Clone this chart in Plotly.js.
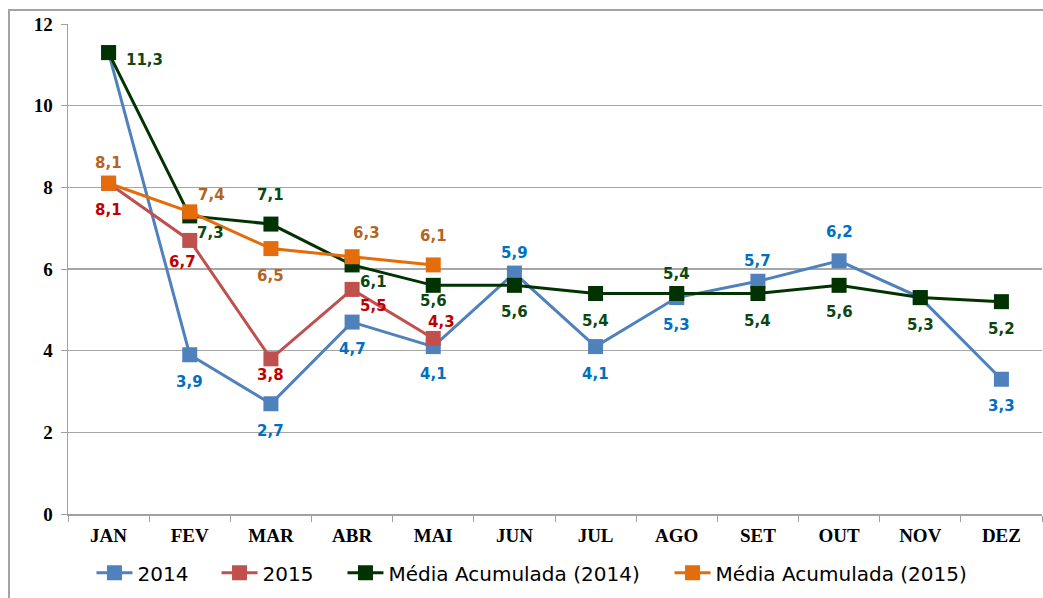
<!DOCTYPE html>
<html>
<head>
<meta charset="utf-8">
<script src="https://cdn.plot.ly/plotly-3.0.1.min.js"></script>
<style>
  html, body { margin: 0; padding: 0; background: #fff; overflow: hidden; }
  #wrap { position: relative; width: 1043px; height: 598px; }
  #chart { width: 1043px; height: 598px; }
  #frame { position: absolute; left: 8px; top: 9px; width: 1200px; height: 800px;
           border: 2px solid #a3a3a3; box-sizing: border-box; pointer-events: none; }
</style>
</head>
<body>
<div id="wrap">
  <div id="chart"></div>
  <div id="frame"></div>
</div>
<script>
// ---- data ----
const months = ["JAN", "FEV", "MAR", "ABR", "MAI", "JUN", "JUL", "AGO", "SET", "OUT", "NOV", "DEZ"];
const months2015 = ["JAN", "FEV", "MAR", "ABR", "MAI"];

const values2014 = [11.3, 3.9, 2.7, 4.7, 4.1, 5.9, 4.1, 5.3, 5.7, 6.2, 5.3, 3.3];
const values2015 = [8.1, 6.7, 3.8, 5.5, 4.3];
const media2014  = [11.3, 7.3, 7.1, 6.1, 5.6, 5.6, 5.4, 5.4, 5.4, 5.6, 5.3, 5.2];
const media2015  = [8.1, 7.4, 6.5, 6.3, 6.1];

// label placement codes per point ("n" = label not shown, it overlaps another series)
const place2014  = ["n", "b", "b", "b", "b", "t", "b", "b", "t", "tt", "n", "b"];
const place2015  = ["b", "bl", "bs", "br", "ts"];
const placeM2014 = ["r", "br", "tt", "br", "bs", "b", "b", "t", "b", "b", "b", "b"];
const placeM2015 = ["t", "tr", "b", "tm", "tt"];

// pixel offsets (dx right, dy down) of the label centre from the marker centre
const OFFSETS = {
  b:  [0, 27],  bs: [0, 16],  bl: [-7, 22], br: [21, 17],
  t:  [0, -20], tt: [0, -29], ts: [8, -16], tr: [22, -17], tm: [14, -24],
  r:  [36, 7]
};

// horizontal legend slot (paper x) for each series
const legendX = [0.0241, 0.1525, 0.2818, 0.6176];

const fmt = v => v.toFixed(1).replace(".", ",");

function series(name, x, y, color, legendId) {
  return {
    type: "scatter",
    mode: "lines+markers",
    name: name,
    x: x,
    y: y,
    legend: legendId,
    line: { color: color, width: 3 },
    marker: { symbol: "square", size: 15, color: color },
    cliponaxis: false,
    hoverinfo: "skip"
  };
}

function labels(x, y, places, textColor) {
  const out = [];
  y.forEach((v, i) => {
    const p = places[i];
    if (p === "n") return;
    const off = OFFSETS[p];
    out.push({
      xref: "x", yref: "y", x: x[i], y: v,
      text: fmt(v), showarrow: false,
      xanchor: "center", yanchor: "middle",
      xshift: off[0], yshift: -off[1],
      font: { family: "DejaVu Sans", size: 15, color: textColor, weight: "bold" }
    });
  });
  return out;
}

const traces = [
  series("2014", months, values2014, "#4f81bd", "legend"),
  series("2015", months2015, values2015, "#c0504d", "legend2"),
  series("Média Acumulada (2014)", months, media2014, "#003300", "legend3"),
  series("Média Acumulada (2015)", months2015, media2015, "#e46c0a", "legend4")
];

const annotations = [].concat(
  labels(months, values2014, place2014, "#0070c0"),
  labels(months2015, values2015, place2015, "#c00000"),
  labels(months, media2014, placeM2014, "#0c4712"),
  labels(months2015, media2015, placeM2015, "#b4641f")
);

function legendBox(x) {
  return {
    orientation: "h",
    x: x, xanchor: "left",
    y: -0.12, yanchor: "middle",
    font: { family: "DejaVu Sans", size: 20, color: "#000" },
    itemwidth: 36,
    bgcolor: "rgba(0,0,0,0)"
  };
}

const layout = {
  width: 1043,
  height: 598,
  margin: { l: 68, r: 1, t: 24, b: 84 },
  paper_bgcolor: "#ffffff",
  plot_bgcolor: "#ffffff",
  showlegend: true,
  legend: legendBox(legendX[0]),
  legend2: legendBox(legendX[1]),
  legend3: legendBox(legendX[2]),
  legend4: legendBox(legendX[3]),
  annotations: annotations,
  xaxis: {
    type: "category",
    categoryorder: "array",
    categoryarray: months,
    range: [-0.5, 11.5],
    showline: true, linecolor: "#a0a0a0", linewidth: 1.5,
    ticks: "outside", tickson: "boundaries", ticklen: 6, tickcolor: "#a0a0a0", tickwidth: 1,
    ticklabelstandoff: 4,
    showgrid: false,
    tickfont: { family: "Liberation Serif", size: 19, color: "#000", weight: "bold" },
    fixedrange: true
  },
  yaxis: {
    range: [0, 12],
    dtick: 2,
    showline: true, linecolor: "#a0a0a0", linewidth: 1.5,
    ticks: "outside", ticklen: 6, tickcolor: "#a0a0a0",
    ticklabelstandoff: 4,
    showgrid: true, gridcolor: "#a6a6a6", gridwidth: 1.5,
    zeroline: false,
    tickfont: { family: "Liberation Serif", size: 19, color: "#000", weight: "bold" },
    fixedrange: true
  }
};

Plotly.newPlot("chart", traces, layout, { staticPlot: true, displayModeBar: false });
</script>
</body>
</html>
